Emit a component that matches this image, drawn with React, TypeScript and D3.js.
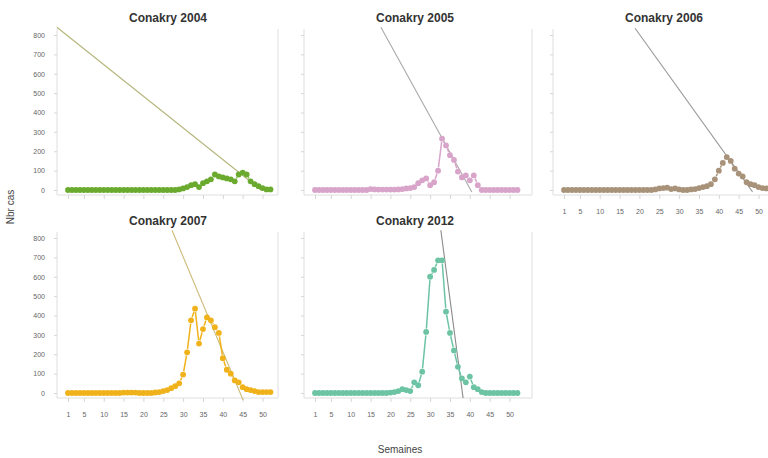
import React, { useEffect, useRef } from 'react';
import * as d3 from 'd3';

// weekly case counts, week 1..52
const cases2004 = [0, 0, 0, 0, 0, 0, 0, 0, 0, 0, 0, 0, 0, 0, 0, 0, 0, 0, 0, 0, 0, 0, 0, 0, 0, 0, 0, 0,
    3, 8, 15, 25, 30, 15, 35, 45, 55, 80, 70, 65, 60, 55, 45, 80, 90, 80, 45, 30, 20, 10, 3, 3];
const cases2005 = [0, 0, 0, 0, 0, 0, 0, 0, 0, 0, 0, 0, 0, 0,
    5, 3, 2, 2, 2, 2, 2, 3, 5, 8, 10, 15, 35, 50, 60, 25, 40, 100, 265, 230, 180, 155, 95, 65, 75, 50, 75, 25, 0,
    0, 0, 0, 0, 0, 0, 0, 0, 0];
const cases2006 = [0, 0, 0, 0, 0, 0, 0, 0, 0, 0, 0, 0, 0, 0, 0, 0, 0, 0, 0, 0, 0, 0, 0,
    3, 8, 10, 12, 5, 8, 3, 0, 0, 3, 5, 10, 15, 20, 30, 55, 100, 140, 170, 150, 110, 85, 70, 40, 30, 25, 15, 10, 8];
const cases2007 = [0, 0, 0, 0, 0, 0, 0, 0, 0, 0, 0, 0, 0, 0,
    2, 2, 2, 2, 0, 0, 0, 0, 3, 5, 10, 15, 25, 35, 50, 95, 210, 375, 435, 255, 330, 390, 375, 340, 310, 180,
    120, 100, 65, 55, 30, 20, 15, 10, 5, 5, 5, 5];
const cases2012 = [0, 0, 0, 0, 0, 0, 0, 0, 0, 0, 0, 0, 0, 0, 0, 0, 0, 0, 0,
    2, 5, 10, 20, 15, 10, 55, 40, 110, 315, 600, 635, 685, 685, 420, 310, 220, 135, 75, 55, 85, 30, 20, 5,
    0, 0, 0, 0, 0, 0, 0, 0, 0];

// straight guide lines, [week, cases] end points
const trend2004 = [[-1.8, 840], [49.6, 0]];
const trend2005 = [[17.6, 840], [40.5, -10]];
const trend2006 = [[18.9, 835], [48.5, -10]];
const trend2007 = [[27.2, 840], [45.1, -36]];
const trend2012 = [[32.7, 840], [38.3, -26]];

const titles = ['Conakry 2004', 'Conakry 2005', 'Conakry 2006', 'Conakry 2007', 'Conakry 2012'];
const colors = ['#6aaa2e', '#d8a4c9', '#a8937a', '#f0b21a', '#6cc4a4'];
const trendColors = ['#b4b47a', '#a9a9a9', '#9a9a9a', '#cdbb7a', '#8a8a8a'];

const yTicks = [0, 100, 200, 300, 400, 500, 600, 700, 800];
const xTicks = [1, 5, 10, 15, 20, 25, 30, 35, 40, 45, 50];

const colLeft = [57, 304, 553];
const colRight = [278, 532, 780];
const rowBase = [190, 393];
const font = 'Liberation Sans, Arial, sans-serif';

export default function App() {
    const ref = useRef<SVGSVGElement>(null);

    useEffect(() => {
        const svg = d3.select(ref.current);
        svg.selectAll('*').remove();

        const panels = [
            {values: cases2004, trend: trend2004, col: 0, row: 0, xLab: false, yLab: true},
            {values: cases2005, trend: trend2005, col: 1, row: 0, xLab: false, yLab: false},
            {values: cases2006, trend: trend2006, col: 2, row: 0, xLab: true, yLab: false},
            {values: cases2007, trend: trend2007, col: 0, row: 1, xLab: true, yLab: true},
            {values: cases2012, trend: trend2012, col: 1, row: 1, xLab: true, yLab: false},
        ];

        panels.forEach((p, i) => {
            const left = colLeft[p.col];
            const right = colRight[p.col];
            const y0 = rowBase[p.row];
            const x = d3.scaleLinear().domain([1, 52]).range([left + 11, left + 11 + 51 * 3.97]);
            const y = d3.scaleLinear().domain([0, 800]).range([y0, y0 - 155]);
            const g = svg.append('g');
            const top = y(800) - 6;
            const bottom = y0 + 5;

            // frame (left, bottom, right)
            g.append('path')
                .attr('d', `M${left},${top}V${bottom}H${right}V${top}`)
                .attr('fill', 'none')
                .attr('stroke', '#dedede')
                .attr('stroke-width', 1);

            const ya = g.append('g')
                .attr('transform', `translate(${left},0)`)
                .call(d3.axisLeft(y).tickValues(yTicks).tickSize(3).tickPadding(9)
                    .tickFormat(p.yLab ? d3.format('d') : () => ''));
            ya.select('.domain').remove();
            ya.selectAll('line').attr('stroke', '#d6d6d6');
            ya.selectAll('text').attr('fill', '#666').style('font', `7px ${font}`);

            const xa = g.append('g')
                .attr('transform', `translate(0,${bottom})`)
                .call(d3.axisBottom(x).tickValues(xTicks).tickSize(4).tickPadding(10)
                    .tickFormat(p.xLab ? d3.format('d') : () => ''));
            xa.select('.domain').remove();
            xa.selectAll('line').attr('stroke', '#d6d6d6');
            xa.selectAll('text').attr('fill', '#666').style('font', `7px ${font}`);

            // title
            g.append('text')
                .attr('x', left + 111)
                .attr('y', y0 - 168)
                .attr('text-anchor', 'middle')
                .attr('fill', '#333')
                .style('font', `bold 12px ${font}`)
                .text(titles[i]);

            // guide line
            g.append('line')
                .attr('x1', x(p.trend[0][0])).attr('y1', y(p.trend[0][1]))
                .attr('x2', x(p.trend[1][0])).attr('y2', y(p.trend[1][1]))
                .attr('stroke', trendColors[i])
                .attr('stroke-width', 1.1);

            // type="b" style: segments with gaps around the points
            const pts = p.values.map((v, k) => [x(k + 1), y(v)]);
            const gap = 3.4;
            const segs = [];
            for (let k = 1; k < pts.length; k++) {
                const [ax, ay] = pts[k - 1];
                const [bx, by] = pts[k];
                const d = Math.hypot(bx - ax, by - ay);
                if (d > 2 * gap) {
                    const ux = (bx - ax) / d, uy = (by - ay) / d;
                    segs.push([ax + ux * gap, ay + uy * gap, bx - ux * gap, by - uy * gap]);
                }
            }
            g.selectAll('line.seg').data(segs).enter().append('line')
                .attr('class', 'seg')
                .attr('x1', d => d[0]).attr('y1', d => d[1])
                .attr('x2', d => d[2]).attr('y2', d => d[3])
                .attr('stroke', colors[i])
                .attr('stroke-width', 1.5);

            g.selectAll('circle').data(pts).enter().append('circle')
                .attr('cx', d => d[0])
                .attr('cy', d => d[1])
                .attr('r', 2.9)
                .attr('fill', colors[i]);
        });

        svg.append('text')
            .attr('transform', 'translate(14,207) rotate(-90)')
            .attr('text-anchor', 'middle')
            .attr('fill', '#444')
            .style('font', `10px ${font}`)
            .text('Nbr cas');

        svg.append('text')
            .attr('x', 400)
            .attr('y', 453)
            .attr('text-anchor', 'middle')
            .attr('fill', '#444')
            .style('font', `10px ${font}`)
            .text('Semaines');
    }, []);

    return (
        <svg ref={ref} width={768} height={458}
             style={{position: 'absolute', left: 0, top: 0, background: '#fff'}}/>
    );
}
